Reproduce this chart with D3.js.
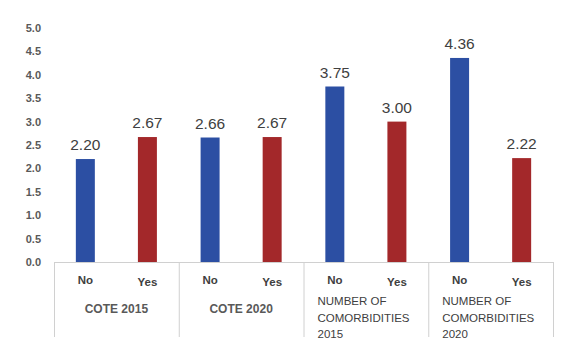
<!DOCTYPE html>
<html>
<head>
<meta charset="utf-8">
<script src="https://cdn.jsdelivr.net/npm/d3@7"></script>
<style>
  body { margin: 0; background: #fff; }
  text { font-family: "Liberation Sans", Arial, sans-serif; }
</style>
</head>
<body>
<div id="chart"></div>
<script>
var groups = ["COTE 2015", "COTE 2020", "NUMBER OF\nCOMORBIDITIES\n2015", "NUMBER OF\nCOMORBIDITIES\n2020"];
var answers = ["No", "Yes"];
var noValues = [2.20, 2.66, 3.75, 4.36];
var yesValues = [2.67, 2.67, 3.00, 2.22];
var yTicks = [0, 0.5, 1, 1.5, 2, 2.5, 3, 3.5, 4, 4.5, 5];

var width = 561, height = 348;
var colors = { No: "#2c4fa3", Yes: "#a3282a" };

var svg = d3.select("#chart").append("svg")
    .attr("width", width)
    .attr("height", height);

var x0 = d3.scaleBand()
    .domain(groups)
    .range([54, 553])
    .paddingInner(0)
    .paddingOuter(0);

var x1 = d3.scaleBand()
    .domain(answers)
    .range([0, x0.bandwidth()])
    .paddingInner(0.694)
    .paddingOuter(0.352);

var y = d3.scaleLinear()
    .domain([0, 5])
    .range([262, 28]);

// rows for the bars
var rows = [];
groups.forEach(function(g, i) {
    rows.push({ group: g, key: "No", value: noValues[i] });
    rows.push({ group: g, key: "Yes", value: yesValues[i] });
});

// y tick labels only, no axis line
svg.append("g")
    .selectAll("text")
    .data(yTicks)
    .enter().append("text")
    .attr("x", 41)
    .attr("y", function(d) { return y(d) + 4; })
    .attr("text-anchor", "end")
    .style("font-size", "11px")
    .style("font-weight", "bold")
    .style("fill", "#595959")
    .text(function(d) { return d3.format(".1f")(d); });

// bars
svg.append("g")
    .selectAll("rect")
    .data(rows)
    .enter().append("rect")
    .attr("x", function(d) { return x0(d.group) + x1(d.key); })
    .attr("y", function(d) { return y(d.value); })
    .attr("width", x1.bandwidth())
    .attr("height", function(d) { return y(0) - y(d.value); })
    .style("fill", function(d) { return colors[d.key]; });

// value labels
svg.append("g")
    .selectAll("text")
    .data(rows)
    .enter().append("text")
    .attr("x", function(d) { return x0(d.group) + x1(d.key) + x1.bandwidth() / 2; })
    .attr("y", function(d) { return y(d.value) - 9; })
    .attr("text-anchor", "middle")
    .style("font-size", "15.5px")
    .style("fill", "#404040")
    .text(function(d) { return d3.format(".2f")(d.value); });

// category axis: baseline + group separators
var axis = svg.append("g");
axis.append("line")
    .attr("x1", x0.range()[0]).attr("x2", x0.range()[1])
    .attr("y1", y(0) + 0.5).attr("y2", y(0) + 0.5)
    .style("stroke", "#d0d0d0");

var edges = groups.map(function(g) { return x0(g); }).concat([x0.range()[1]]);
axis.selectAll(".sep")
    .data(edges)
    .enter().append("line")
    .attr("class", "sep")
    .attr("x1", function(d) { return d + 0.5; })
    .attr("x2", function(d) { return d + 0.5; })
    .attr("y1", y(0))
    .attr("y2", 337)
    .style("stroke", "#d0d0d0");

// No / Yes labels
axis.selectAll(".sub")
    .data(rows)
    .enter().append("text")
    .attr("class", "sub")
    .attr("x", function(d) { return x0(d.group) + x1(d.key) + x1.bandwidth() / 2; })
    .attr("y", function(d) { return d.key === "No" ? 284 : 286; })
    .attr("text-anchor", "middle")
    .style("font-size", "11.5px")
    .style("font-weight", "bold")
    .style("fill", "#404040")
    .text(function(d) { return d.key; });

// group labels
groups.forEach(function(g) {
    var lines = g.split("\n");
    if (lines.length === 1) {
        axis.append("text")
            .attr("x", x0(g) + x0.bandwidth() / 2)
            .attr("y", 313)
            .attr("text-anchor", "middle")
            .style("font-size", "12px")
            .style("font-weight", "bold")
            .style("fill", "#595959")
            .text(g);
    } else {
        var t = axis.append("text")
            .attr("x", x0(g) + 14)
            .attr("y", 305)
            .style("font-size", "11.5px")
            .style("fill", "#404040");
        t.selectAll("tspan")
            .data(lines)
            .enter().append("tspan")
            .attr("x", x0(g) + 14)
            .attr("dy", function(d, i) { return i === 0 ? 0 : 16.5; })
            .text(function(d) { return d; });
    }
});
</script>
</body>
</html>
